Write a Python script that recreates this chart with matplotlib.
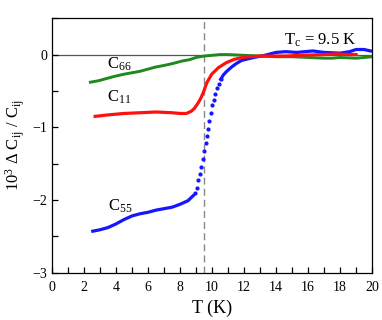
import matplotlib.pyplot as plt
from matplotlib.ticker import MultipleLocator

plt.rcParams['font.family'] = ['Liberation Serif', 'DejaVu Serif']
plt.rcParams['mathtext.fontset'] = 'custom'
plt.rcParams['mathtext.rm'] = 'Liberation Serif'
plt.rcParams['mathtext.it'] = 'Liberation Serif'

# readings from the picture (T in K, 10^3 dC/C)
t_c66 = [2.4, 2.9, 3.4, 3.9, 4.5, 5.0, 5.5, 6.0, 6.5, 7.0, 7.6, 8.1, 8.6, 9.0, 9.5,
         10.0, 10.5, 11.0, 12.0, 13.0, 14.0, 15.0, 16.0, 17.0, 17.5, 18.0, 19.0, 19.5, 20.0]
v_c66 = [-0.38, -0.36, -0.33, -0.30, -0.27, -0.25, -0.23, -0.20, -0.17, -0.15, -0.12, -0.09, -0.07,
         -0.04, -0.02, -0.01, 0.0, 0.0, -0.01, -0.02, -0.03, -0.03, -0.04, -0.05, -0.05, -0.04, -0.05, -0.04, -0.03]

t_c11 = [2.7, 3.5, 4.5, 5.5, 6.5, 7.5, 8.0, 8.4, 8.7, 8.9, 9.15, 9.3, 9.46, 9.67, 9.98,
         10.4, 10.9, 11.4, 12.0, 13.0, 14.0, 14.7, 15.5, 16.3, 17.0, 17.8, 18.5, 19.0]
v_c11 = [-0.85, -0.83, -0.81, -0.80, -0.79, -0.80, -0.81, -0.81, -0.78, -0.74, -0.66, -0.60, -0.52, -0.39, -0.27,
         -0.18, -0.11, -0.065, -0.035, -0.02, -0.02, -0.02, -0.01, -0.005, 0.0, 0.01, 0.0, 0.0]

t_c55_low = [2.55, 3.0, 3.5, 4.0, 4.5, 5.0, 5.5, 6.0, 6.5, 7.0, 7.5, 8.0, 8.5, 8.83]
v_c55_low = [-2.43, -2.41, -2.38, -2.33, -2.27, -2.22, -2.19, -2.17, -2.14, -2.12, -2.10, -2.06, -2.01, -1.94]
t_c55_jump = [8.94, 9.04, 9.15, 9.23, 9.33, 9.42, 9.52, 9.60, 9.67, 9.77, 9.83, 9.92,
              10.02, 10.12, 10.21, 10.31, 10.42, 10.54]
v_c55_jump = [-1.90, -1.83, -1.73, -1.64, -1.54, -1.43, -1.32, -1.21, -1.12, -1.02, -0.92, -0.81,
              -0.70, -0.62, -0.54, -0.46, -0.40, -0.34]
t_c55_high = [10.54, 10.71, 10.92, 11.23, 11.54, 11.85, 12.6, 13.3, 14.0, 14.6, 15.3, 16.3,
              17.0, 18.0, 18.6, 19.0, 19.5, 19.9]
v_c55_high = [-0.34, -0.28, -0.23, -0.17, -0.12, -0.08, -0.04, -0.01, 0.03, 0.04, 0.03, 0.05,
              0.03, 0.02, 0.04, 0.07, 0.07, 0.05]

t_crit = 9.5

fig = plt.figure(figsize=(3.82, 3.20), dpi=100)
ax = fig.add_axes([0.136, 0.148, 0.838, 0.795])

ax.axhline(0, color='#555555', lw=0.9, zorder=1)
ax.axvline(t_crit, color='#888888', lw=1.0, ls=(0, (5, 3)), zorder=1)

ax.plot(t_c66, v_c66, color='#1f881f', lw=2.1, zorder=3)
ax.plot(t_c11, v_c11, color='#ff1010', lw=2.3, zorder=4)
ax.plot(t_c55_low, v_c55_low, color='#1515ff', lw=2.3, zorder=2)
ax.plot(t_c55_jump, v_c55_jump, 'o', color='#1515ff', ms=2.0, zorder=2)
ax.plot(t_c55_high, v_c55_high, color='#1515ff', lw=2.3, zorder=2)

ax.text(3.45, -0.13, r'C$_{66}$', fontsize=12, va='center')
ax.text(3.45, -0.59, r'C$_{11}$', fontsize=12, va='center')
ax.text(3.5, -2.09, r'C$_{55}$', fontsize=12, va='center')
ax.text(14.5, 0.19, r'T$_{\rm c}$ = 9.5 K', fontsize=12, va='center')

ax.set_xlim(0, 20)
ax.set_ylim(-3, 0.5)
ax.xaxis.set_major_locator(MultipleLocator(2))
ax.xaxis.set_minor_locator(MultipleLocator(1))
ax.yaxis.set_major_locator(MultipleLocator(1))
ax.yaxis.set_minor_locator(MultipleLocator(0.5))
ax.tick_params(which='both', direction='in', top=False, right=False, length=4, width=0.9, labelsize=10)
ax.tick_params(axis='x', pad=6)
for s in ax.spines.values():
    s.set_linewidth(0.9)

ax.set_xlabel('T (K)', fontsize=13)
ax.set_ylabel(r'10$^{3}$ $\Delta$ C$_{\rm ij}$ / C$_{\rm ij}$', fontsize=12)

fig.savefig('out.png', dpi=100)
